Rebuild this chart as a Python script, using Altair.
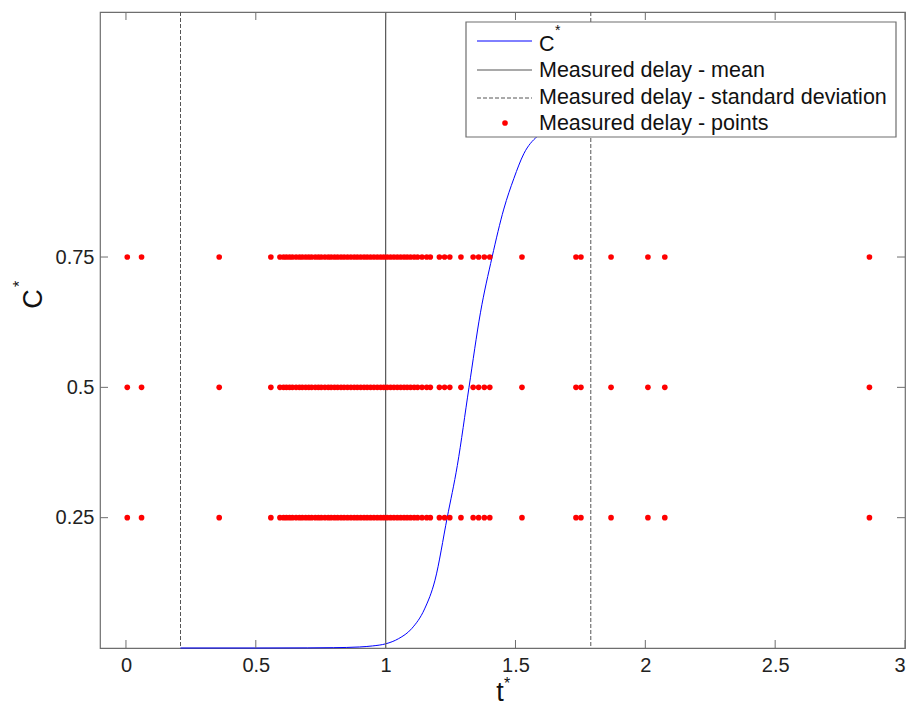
import altair as alt
import pandas as pd

# ---- data ----
point_t = [0.005, 0.060, 0.359, 0.558,
           0.593, 0.607, 0.618, 0.630, 0.641, 0.655, 0.668, 0.679, 0.692, 0.704,
           0.715, 0.729, 0.741, 0.752, 0.766, 0.779, 0.790, 0.803, 0.815, 0.828,
           0.840, 0.853, 0.866, 0.879, 0.891, 0.904, 0.917, 0.929, 0.942, 0.955,
           0.968, 0.981, 0.993, 1.006, 1.019, 1.032, 1.045, 1.058, 1.071, 1.083,
           1.096, 1.110, 1.123, 1.140, 1.158, 1.172,
           1.207, 1.227, 1.247, 1.290, 1.337, 1.358, 1.380, 1.401,
           1.525, 1.733, 1.752, 1.868, 2.010, 2.075, 2.863]
point_levels = [0.25, 0.5, 0.75]

curve_t = [0.21, 0.50, 0.70, 0.80, 0.90, 0.95, 1.00, 1.05, 1.10, 1.15, 1.19,
           1.237, 1.276, 1.321, 1.365, 1.41, 1.455, 1.494, 1.532, 1.583, 1.65,
           1.70, 1.79]
curve_c = [0.0, 0.0, 0.0002, 0.0006, 0.002, 0.004, 0.008, 0.018, 0.037, 0.075,
           0.13, 0.25, 0.35, 0.50, 0.643, 0.75, 0.842, 0.901, 0.948, 0.981,
           0.996, 0.999, 1.0]

mean_delay = [1.0]
sd_bounds = [0.21, 1.79]

x_ticks = [0, 0.5, 1, 1.5, 2, 2.5, 3]
y_ticks = [0.25, 0.5, 0.75]

legend_labels = ["C", "Measured delay - mean",
                 "Measured delay - standard deviation", "Measured delay - points"]

# ---- build tables ----
points_df = pd.DataFrame([{"t": t, "c": c} for c in point_levels for t in point_t])
curve_df = pd.DataFrame({"t": curve_t, "c": curve_c})
mean_df = pd.DataFrame({"t": mean_delay})
sd_df = pd.DataFrame({"t": sd_bounds})
xt_df = pd.DataFrame({"t": x_ticks})
yt_df = pd.DataFrame({"c": y_ticks})
one = pd.DataFrame({"a": [0]})

W, H = 805, 636
FONT = "Liberation Sans"
FRAME = "#6e6e6e"
xs = alt.Scale(domain=[-0.1, 3], nice=False, zero=False)
ys = alt.Scale(domain=[0, 1.22], nice=False, zero=False)

x_axis = alt.Axis(values=x_ticks, labelExpr="toString(datum.value)", ticks=False, domain=False,
                  grid=False, labelFontSize=20, labelPadding=7, labelColor="#222", title=None,
                  labelFont=FONT)
y_axis = alt.Axis(values=y_ticks, labelExpr="toString(datum.value)", ticks=False, domain=False,
                  grid=False, labelFontSize=20, labelPadding=6, labelColor="#222", title=None,
                  labelFont=FONT)

X = alt.X("t:Q", scale=xs, axis=x_axis)
Y = alt.Y("c:Q", scale=ys, axis=y_axis)

curve = alt.Chart(curve_df).mark_line(color="#0000ff", strokeWidth=1, interpolate="monotone").encode(
    x=X, y=Y)

mean_line = alt.Chart(mean_df).mark_rule(color="#555555", strokeWidth=1.2).encode(
    x=X, y=alt.value(0), y2=alt.value(H))
sd_lines = alt.Chart(sd_df).mark_rule(color="#555555", strokeWidth=1, strokeDash=[4, 2]).encode(
    x=X, y=alt.value(0), y2=alt.value(H))

pts = alt.Chart(points_df).mark_circle(color="#ff0000", size=32, opacity=1).encode(x=X, y=Y)

# inward ticks on all four sides
tick_b = alt.Chart(xt_df).mark_rule(color=FRAME, strokeWidth=1).encode(
    x=X, y=alt.value(H), y2=alt.value(H - 8))
tick_t = alt.Chart(xt_df).mark_rule(color=FRAME, strokeWidth=1).encode(
    x=X, y=alt.value(0), y2=alt.value(8))
tick_l = alt.Chart(yt_df).mark_rule(color=FRAME, strokeWidth=1).encode(
    y=Y, x=alt.value(0), x2=alt.value(8))
tick_r = alt.Chart(yt_df).mark_rule(color=FRAME, strokeWidth=1).encode(
    y=Y, x=alt.value(W), x2=alt.value(W - 8))

# axis titles with superscript asterisks
x_title = alt.Chart(one).mark_text(text="t", font=FONT, fontSize=27, align="center",
                                   baseline="middle", color="#111").encode(
    x=alt.value(400), y=alt.value(681))
x_star = alt.Chart(one).mark_text(text="*", font=FONT, fontSize=16, align="center",
                                  baseline="middle", color="#111").encode(
    x=alt.value(407), y=alt.value(672))
y_title = alt.Chart(one).mark_text(text="C", font=FONT, fontSize=27, align="center",
                                   baseline="middle", angle=270, color="#111").encode(
    x=alt.value(-66), y=alt.value(287))
y_star = alt.Chart(one).mark_text(text="*", font=FONT, fontSize=16, align="center",
                                  baseline="middle", angle=270, color="#111").encode(
    x=alt.value(-80), y=alt.value(272))

# legend
LX0, LX1, LY0, LY1 = 366, 796, 10, 125
leg_box = alt.Chart(one).mark_rect(fill="white", stroke=FRAME, strokeWidth=1.2).encode(
    x=alt.value(LX0), x2=alt.value(LX1), y=alt.value(LY0), y2=alt.value(LY1))
row_y = [29, 58, 86, 111]
text_y = [33, 59, 86, 112]
leg_layers = [leg_box]
leg_layers.append(alt.Chart(one).mark_rule(color="#0000ff", strokeWidth=1).encode(
    x=alt.value(377), x2=alt.value(432), y=alt.value(row_y[0])))
leg_layers.append(alt.Chart(one).mark_rule(color="#555555", strokeWidth=1.2).encode(
    x=alt.value(377), x2=alt.value(432), y=alt.value(row_y[1])))
leg_layers.append(alt.Chart(one).mark_rule(color="#555555", strokeWidth=1, strokeDash=[4, 2]).encode(
    x=alt.value(377), x2=alt.value(432), y=alt.value(row_y[2])))
leg_layers.append(alt.Chart(one).mark_circle(color="#ff0000", size=32, opacity=1).encode(
    x=alt.value(405), y=alt.value(row_y[3])))
for lbl, ty in zip(legend_labels, text_y):
    leg_layers.append(alt.Chart(one).mark_text(text=lbl, font=FONT, fontSize=21.5, align="left",
                                               baseline="middle", color="#111").encode(
        x=alt.value(439), y=alt.value(ty)))
leg_layers.append(alt.Chart(one).mark_text(text="*", font=FONT, fontSize=14, align="left",
                                           baseline="middle", color="#111").encode(
    x=alt.value(455), y=alt.value(19)))

chart = alt.layer(
    curve, mean_line, sd_lines, pts, tick_b, tick_t, tick_l, tick_r,
    x_title, x_star, y_title, y_star, *leg_layers
).properties(
    width=W, height=H,
    autosize=alt.AutoSizeParams(type="none"),
    padding={"left": 100, "top": 12, "right": 10, "bottom": 64},
).configure_view(stroke=FRAME, strokeWidth=1.2)

chart.save("out.html", embed_options={"renderer": "svg", "actions": False})
